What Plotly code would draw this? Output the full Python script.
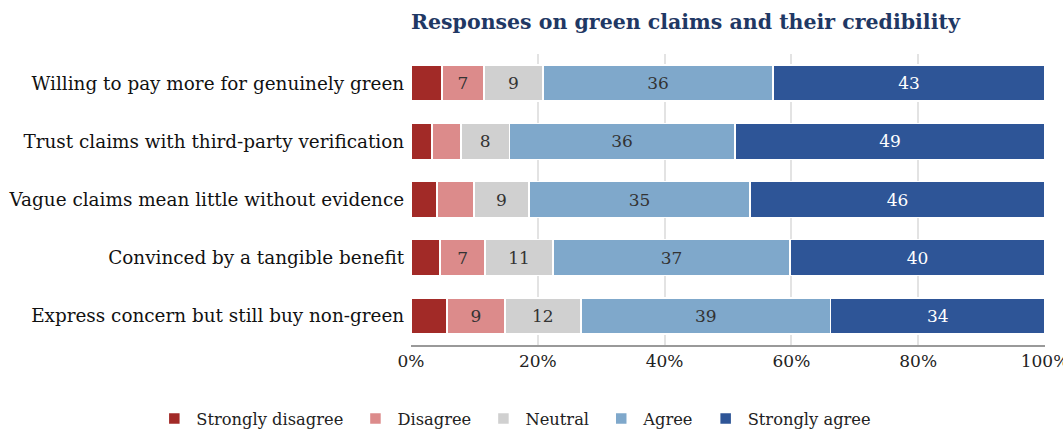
import plotly.graph_objects as go

categories = [
    "Willing to pay more for genuinely green",
    "Trust claims with third-party verification",
    "Vague claims mean little without evidence",
    "Convinced by a tangible benefit",
    "Express concern but still buy non-green",
]
series_names = ["Strongly disagree", "Disagree", "Neutral", "Agree", "Strongly agree"]
strongly_disagree = [4.9, 3.3, 4.1, 4.6, 5.7]
disagree = [6.6, 4.6, 5.8, 7.1, 9.1]
neutral = [9.3, 7.6, 8.7, 10.7, 12.0]
agree = [36.3, 35.6, 34.9, 37.4, 39.4]
strongly_agree = [42.9, 48.9, 46.5, 40.2, 33.8]
colors = ["#a22a27", "#dc8b8b", "#d0d0d0", "#7fa8cb", "#2e5597"]
text_colors = ["#222222", "#333333", "#333333", "#333333", "#ffffff"]
tick_vals = [0, 20, 40, 60, 80, 100]
tick_text = ["0%", "20%", "40%", "60%", "80%", "100%"]

data = [strongly_disagree, disagree, neutral, agree, strongly_agree]
font = "DejaVu Serif"

fig = go.Figure()
for name, vals, col, tc in zip(series_names, data, colors, text_colors):
    labels = [f"{round(v):d}" if v >= 6.5 else "" for v in vals]
    fig.add_trace(go.Bar(
        y=categories, x=vals, name=name + "\u00a0", orientation="h",
        marker=dict(color=col, line=dict(color="white", width=1.5)),
        text=labels, textposition="inside", insidetextanchor="middle",
        textfont=dict(family=font, size=17, color=tc),
        hoverinfo="skip", width=0.62,
    ))

fig.update_layout(
    barmode="stack",
    width=1063, height=429,
    margin=dict(l=411, r=18, t=54, b=84, autoexpand=False),
    paper_bgcolor="white", plot_bgcolor="white",
    font=dict(family=font, size=16, color="#222222"),
    title=dict(text="<b>Responses on green claims and their credibility</b>",
               x=411/1063, xanchor="left", y=0.948, yanchor="middle",
               font=dict(family=font, size=20.5, color="#1f3864")),
    uniformtext=dict(minsize=8),
    showlegend=True,
    legend=dict(orientation="h", x=-0.408, xanchor="left", y=-0.254, yanchor="middle",
                font=dict(family=font, size=16.3, color="#222222"),
                traceorder="normal", itemwidth=34),
    bargap=0.38,
)
fig.update_xaxes(range=[0, 100.001], tickvals=tick_vals, ticktext=tick_text,
                 showgrid=True, gridcolor="#e3e3e3", gridwidth=1.5,
                 showline=True, linecolor="#999999", linewidth=2,
                 ticks="", tickfont=dict(family=font, size=17, color="#222222"),
                 ticklabeloverflow="allow", zeroline=False)
fig.update_yaxes(autorange="reversed", showgrid=False, ticks="",
                 tickfont=dict(family=font, size=18.4, color="#111111"),
                 ticksuffix=" ")

fig.write_html("out.html")
